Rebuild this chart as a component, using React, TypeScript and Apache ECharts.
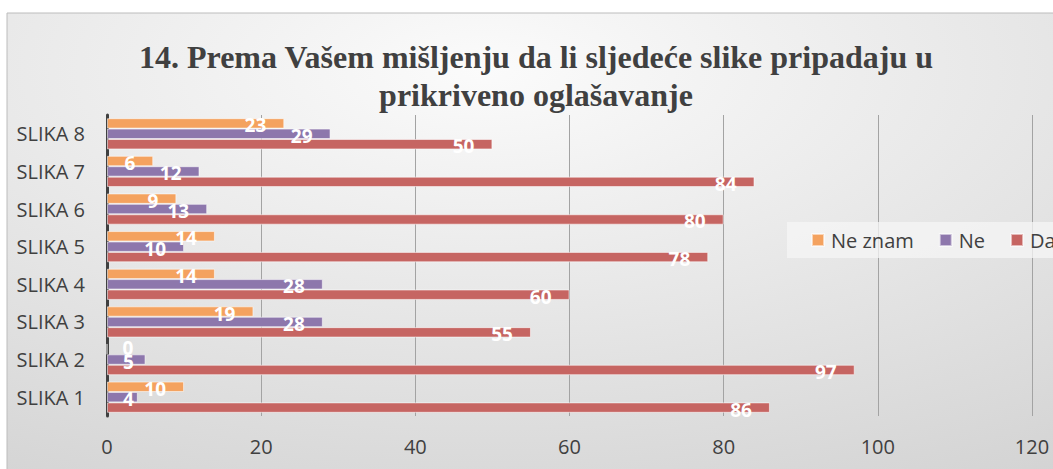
import React, { useEffect, useRef } from "react";
import * as echarts from "echarts";

const categories = ["SLIKA 1", "SLIKA 2", "SLIKA 3", "SLIKA 4", "SLIKA 5", "SLIKA 6", "SLIKA 7", "SLIKA 8"];
const daValues = [86, 97, 55, 60, 78, 80, 84, 50];
const neValues = [4, 5, 28, 28, 10, 13, 12, 29];
const neZnamValues = [10, 0, 19, 14, 14, 9, 6, 23];
const xTicks = { min: 0, max: 120, interval: 20 };
const titleText = "14. Prema Vašem mišljenju da li sljedeće slike pripadaju u\nprikriveno oglašavanje";

const FONT = "'Open Sans', sans-serif";

function toData(values: number[]) {
  return values.map((v) =>
    v < 6
      ? { value: v, label: { position: "insideLeft", distance: 16, offset: [0, v === 0 ? -1 : 2] } }
      : { value: v }
  );
}

export default function App() {
  const ref = useRef<HTMLDivElement>(null);
  useEffect(() => {
    if (!ref.current) return;
    const chart = echarts.init(ref.current, null, { renderer: "svg" });
    const labelStyle = {
      show: true,
      position: "insideRight",
      distance: 18,
      offset: [0, 2],
      color: "#ffffff",
      fontFamily: FONT,
      fontWeight: "bold",
      fontSize: 19,
    };
    const mk = (name: string, values: number[], color: string) => ({
      name,
      type: "bar",
      data: toData(values),
      barGap: "0%",
      barCategoryGap: "17%",
      itemStyle: { color, borderColor: "rgba(255,255,255,0.55)", borderWidth: 1 },
      label: labelStyle,
    });
    chart.setOption({
      animation: false,
      graphic: [
        {
          type: "rect",
          z: -10,
          shape: { x: 7, y: 13, width: 1060, height: 470 },
          style: {
            fill: new echarts.graphic.RadialGradient(0.45, 0.12, 1.45, [
              { offset: 0, color: "#fbfbfb" },
              { offset: 1, color: "#c2c2c2" },
            ]),
            stroke: "#bcbcbc",
            lineWidth: 1,
          },
        },
      ],
      title: {
        text: titleText,
        left: 531,
        top: 33,
        textAlign: "center",
        textStyle: {
          fontFamily: "'Liberation Serif', serif",
          fontWeight: "bold",
          fontSize: 32,
          lineHeight: 38,
          color: "#404040",
        },
      },
      legend: {
        data: ["Ne znam", "Ne", "Da"],
        left: 787,
        top: 222,
        width: 600,
        padding: [8, 24],
        icon: "rect",
        itemWidth: 12,
        itemHeight: 12,
        itemGap: 25,
        backgroundColor: "rgba(246,246,246,0.75)",
        textStyle: { fontFamily: FONT, fontSize: 20, color: "#404040", padding: [0, 0, 0, 2] },
      },
      grid: { left: 107, right: 21, top: 115, bottom: 53, containLabel: false },
      xAxis: {
        type: "value",
        min: xTicks.min,
        max: xTicks.max,
        interval: xTicks.interval,
        axisLine: { show: false },
        axisTick: { show: false },
        axisLabel: { margin: 20, fontFamily: FONT, fontSize: 20, color: "#404040" },
        splitLine: { show: true, lineStyle: { color: "#a3a3a3", width: 1 } },
      },
      yAxis: {
        type: "category",
        data: categories,
        axisLine: { show: true, lineStyle: { color: "#404040", width: 3 } },
        axisTick: { show: false },
        axisLabel: { margin: 22, fontFamily: FONT, fontSize: 20, color: "#404040" },
        splitLine: { show: false },
      },
      series: [
        mk("Ne znam", neZnamValues, "#F4A25F"),
        mk("Ne", neValues, "#8D77AC"),
        mk("Da", daValues, "#C66562"),
      ],
    });
    return () => chart.dispose();
  }, []);
  return (
    <div
      ref={ref}
      style={{ position: "absolute", left: 0, top: 0, width: 1053, height: 469 }}
    />
  );
}
